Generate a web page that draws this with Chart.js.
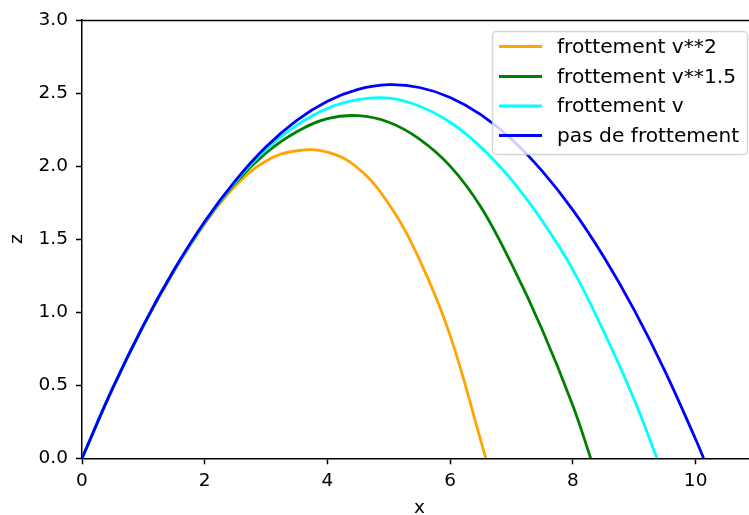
<!DOCTYPE html>
<html>
<head>
<meta charset="utf-8">
<script src="https://cdn.jsdelivr.net/npm/chart.js@4/dist/chart.umd.min.js"></script>
<style>
html,body{margin:0;padding:0;background:#fff;overflow:hidden;width:749px;height:515px;}
#wrap{position:absolute;left:0;top:0;width:800px;height:515px;}
</style>
</head>
<body>
<div id="wrap"><canvas id="c" width="800" height="515"></canvas></div>
<script>
// Data
const seriesLabels = ["frottement v**2", "frottement v**1.5", "frottement v", "pas de frottement"];
const seriesColors = ["#FFA500", "#008000", "#00FFFF", "#0000FF"];

const xOrange = [0,0.5,1,1.5,2,2.5,3,3.5,4,4.5,5,5.5,6,6.5,6.58];
const zOrange = [0,0.479,0.905,1.28,1.605,1.865,2.035,2.105,2.095,1.985,1.74,1.36,0.84,0.12,0];

const xGreen = [0,0.5,1,1.5,2,2.5,3,3.5,4,4.5,5,5.5,6,6.5,7,7.5,8,8.29];
const zGreen = [0,0.480,0.908,1.285,1.612,1.885,2.09,2.235,2.325,2.345,2.30,2.185,2.00,1.72,1.33,0.88,0.36,0];

const xCyan = [0,0.5,1,1.5,2,2.5,3,3.5,4,4.5,5,5.5,6,6.5,7,7.5,8,8.5,9,9.37];
const zCyan = [0,0.480,0.909,1.288,1.616,1.893,2.115,2.28,2.395,2.455,2.465,2.41,2.30,2.13,1.905,1.625,1.29,0.87,0.40,0];

const xBlue = [0,0.5,1,1.5,2,2.5,3,3.5,4,4.5,5,5.5,6,6.5,7,7.5,8,8.5,9,9.5,10,10.13];
const zBlue = [0,0.480,0.910,1.290,1.621,1.901,2.132,2.313,2.444,2.525,2.557,2.538,2.470,2.352,2.184,1.966,1.699,1.381,1.014,0.597,0.130,0];

const xTicks = [0,2,4,6,8,10];
const yTicks = [0,0.5,1.0,1.5,2.0,2.5,3.0];
const xRange = [0, 11];
const yRange = [0, 3];

const FONT = "'DejaVu Sans', sans-serif";
const FS = 18.5;
const LFS = 20.2;

function pts(xs, zs){ return xs.map((x,i)=>({x:x, y:zs[i]})); }
const allX = [xOrange, xGreen, xCyan, xBlue];
const allZ = [zOrange, zGreen, zCyan, zBlue];

const datasets = seriesLabels.map((lab,i)=>({
  label: lab,
  data: pts(allX[i], allZ[i]),
  borderColor: seriesColors[i],
  backgroundColor: seriesColors[i],
  borderWidth: 2.8,
  pointRadius: 0,
  fill: false,
  tension: 0.4,
  order: 3 - i
}));

const topSpine = {
  id: 'topSpine',
  afterDatasetsDraw(chart){
    const ctx = chart.ctx, a = chart.chartArea;
    ctx.save();
    ctx.strokeStyle = '#000'; ctx.lineWidth = 1.5;
    ctx.beginPath(); ctx.moveTo(a.left, a.top + 0.5); ctx.lineTo(a.right, a.top + 0.5); ctx.stroke();
    ctx.beginPath(); ctx.moveTo(a.right, a.top); ctx.lineTo(a.right, a.bottom); ctx.stroke();
    ctx.restore();
  }
};

const legendBox = {
  id: 'legendBox',
  afterDraw(chart){
    const ctx = chart.ctx;
    const bx = 492, by = 31, bw = 255, bh = 123;
    ctx.save();
    ctx.beginPath();
    if (ctx.roundRect) ctx.roundRect(bx+0.5, by+0.5, bw, bh, 4); else ctx.rect(bx+0.5, by+0.5, bw, bh);
    ctx.fillStyle = 'rgba(255,255,255,0.8)';
    ctx.fill();
    ctx.strokeStyle = 'rgba(204,204,204,0.8)';
    ctx.lineWidth = 1.5;
    ctx.stroke();
    ctx.font = LFS + 'px ' + FONT;
    ctx.textBaseline = 'middle';
    const rows = [46.5, 76.5, 106, 135.5];
    chart.data.datasets.forEach((ds, i)=>{
      const y = rows[i];
      ctx.strokeStyle = ds.borderColor;
      ctx.lineWidth = 2.8;
      ctx.beginPath(); ctx.moveTo(499, y); ctx.lineTo(542, y); ctx.stroke();
      ctx.fillStyle = '#000';
      ctx.fillText(ds.label, 557, y + 1);
    });
    ctx.restore();
  }
};

new Chart(document.getElementById('c'), {
  type: 'line',
  data: { datasets },
  options: {
    responsive: false,
    animation: false,
    layout: { padding: { left: 0, right: 43, top: 20, bottom: 0 } },
    plugins: { legend: { display: false }, tooltip: { enabled: false } },
    scales: {
      x: {
        type: 'linear', min: xRange[0], max: xRange[1],
        afterBuildTicks(s){ s.ticks = xTicks.map(v=>({value:v})); },
        afterFit(s){ s.height = 56.7; },
        ticks: { color: '#000', font: { family: FONT, size: FS }, padding: 6, maxRotation: 0, autoSkip: false,
                 callback: v => String(v) },
        grid: { display: true, drawOnChartArea: false, drawTicks: true, tickLength: 6, tickColor: '#000', tickWidth: 1.5 },
        border: { display: true, color: '#000', width: 1.5 },
        title: { display: true, text: 'x', color: '#000', font: { family: FONT, size: FS }, padding: { top: 0, bottom: -4 } }
      },
      y: {
        type: 'linear', min: yRange[0], max: yRange[1],
        afterBuildTicks(s){ s.ticks = yTicks.map(v=>({value:v})); },
        afterFit(s){ s.width = 82; },
        ticks: { color: '#000', font: { family: FONT, size: FS }, padding: 8, autoSkip: false,
                 callback: v => Number(v).toFixed(1) },
        grid: { display: true, drawOnChartArea: false, drawTicks: true, tickLength: 6, tickColor: '#000', tickWidth: 1.5 },
        border: { display: true, color: '#000', width: 1.5 },
        title: { display: true, text: 'z', color: '#000', font: { family: FONT, size: FS }, padding: { top: 6, bottom: 0 } }
      }
    }
  },
  plugins: [topSpine, legendBox]
});
</script>
</body>
</html>
